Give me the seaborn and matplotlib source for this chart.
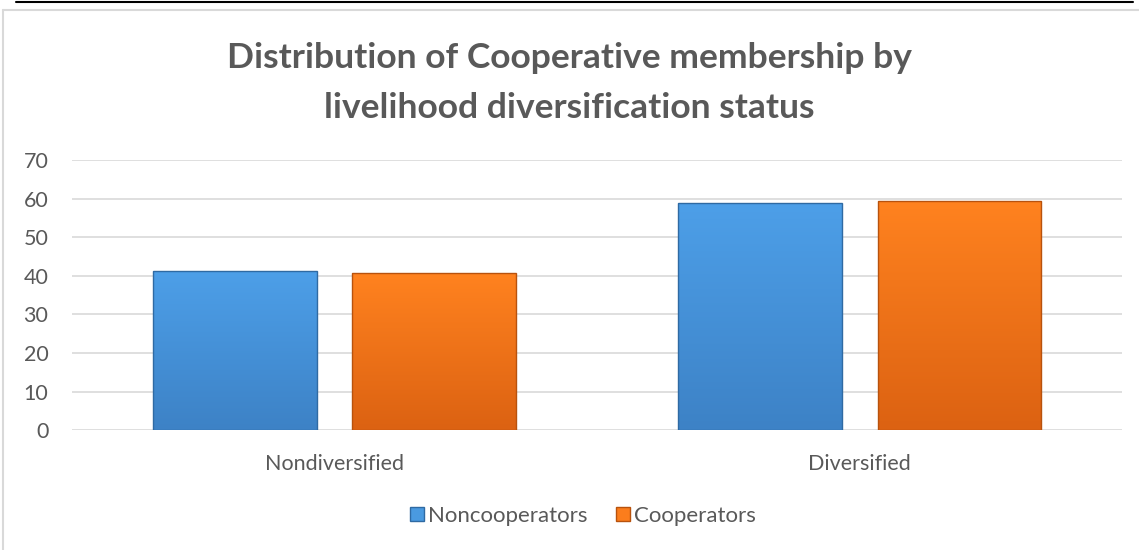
import numpy as np
import pandas as pd
import matplotlib.pyplot as plt
import seaborn as sns
from matplotlib.colors import LinearSegmentedColormap
from matplotlib.lines import Line2D
from matplotlib.patches import Patch

categories = ['Nondiversified', 'Diversified']
series_names = ['Noncooperators', 'Cooperators']
noncooperators = [41.2, 58.8]
cooperators = [40.6, 59.4]
yticks = [0, 10, 20, 30, 40, 50, 60, 70]

TEXT = '#595959'
BLUE = '#4a9ae0'
ORANGE = '#fb7d1c'
SHADES = {
    BLUE: ('#3d82c6', '#4d9fe8', '#2f6aa3'),
    ORANGE: ('#dc6212', '#ff821f', '#b8520d'),
}


def shade_bars(ax, colors):
    # fake the office bevel: vertical gradient clipped to each bar
    for p, c in zip(ax.patches, colors):
        bottom, top, edge = SHADES[c]
        cmap = LinearSegmentedColormap.from_list('g', [bottom, top])
        x0, y0 = p.get_x(), p.get_y()
        w, h = p.get_width(), p.get_height()
        grad = np.linspace(0, 1, 100).reshape(-1, 1)
        im = ax.imshow(grad, cmap=cmap, origin='lower', aspect='auto',
                       extent=[x0, x0 + w, y0, y0 + h], zorder=3)
        im.set_clip_path(p)
        p.set_edgecolor(edge)
        p.set_linewidth(1.0)
        p.set_zorder(4)
        p.set_facecolor('none')


def main():
    df = pd.DataFrame({
        'Status': categories * 2,
        'Group': [series_names[0]] * 2 + [series_names[1]] * 2,
        'Percent': noncooperators + cooperators,
    })

    sns.set_theme(style='white')
    plt.rcParams['font.family'] = ['Lato', 'DejaVu Sans']

    fig = plt.figure(figsize=(11.39, 5.5), dpi=100)
    ax = fig.add_axes([0.0632, 0.218, 0.922, 0.491])

    sns.barplot(data=df, x='Status', y='Percent', hue='Group',
                hue_order=series_names, palette=[BLUE, ORANGE], saturation=1,
                width=0.76, gap=0.18, ax=ax, legend=False)

    shade_bars(ax, [BLUE, BLUE, ORANGE, ORANGE])

    ax.set_ylim(0, 70)
    ax.set_yticks(yticks)
    ax.set_xlim(-0.5, 1.5)
    ax.yaxis.grid(True, color='#d9d9d9', linewidth=1.2, zorder=0)
    ax.set_axisbelow(True)
    for s in ax.spines.values():
        s.set_visible(False)
    ax.tick_params(axis='both', length=0, colors=TEXT, labelsize=15.5)
    ax.tick_params(axis='y', pad=17)
    ax.tick_params(axis='x', pad=17)
    ax.set_xlabel('')
    ax.set_ylabel('')

    fig.suptitle('Distribution of Cooperative membership by\nlivelihood diversification status',
                 x=0.5, y=0.923, fontsize=25.5, fontweight='bold', color=TEXT,
                 linespacing=1.69)

    handles = [Patch(facecolor=BLUE, edgecolor='#2f6aa3', label=series_names[0]),
               Patch(facecolor=ORANGE, edgecolor='#b8520d', label=series_names[1])]
    fig.legend(handles=handles, loc='center', bbox_to_anchor=(0.512, 0.062), ncol=2,
               frameon=False, fontsize=16, handlelength=0.6, handleheight=0.6,
               handletextpad=0.2, columnspacing=1.3, labelcolor=TEXT)

    # chart frame and the page rule above it
    fig.add_artist(Line2D([0.003, 0.003], [0, 1 - 10 / 550], color='#d9d9d9', lw=1.5))
    fig.add_artist(Line2D([0.003, 1], [1 - 10 / 550] * 2, color='#d9d9d9', lw=1.5))
    fig.add_artist(Line2D([0.014, 0.995], [1 - 2 / 550] * 2, color='black', lw=1.5))

    fig.savefig('out.png', dpi=100)
    plt.close(fig)


if __name__ == '__main__':
    main()
